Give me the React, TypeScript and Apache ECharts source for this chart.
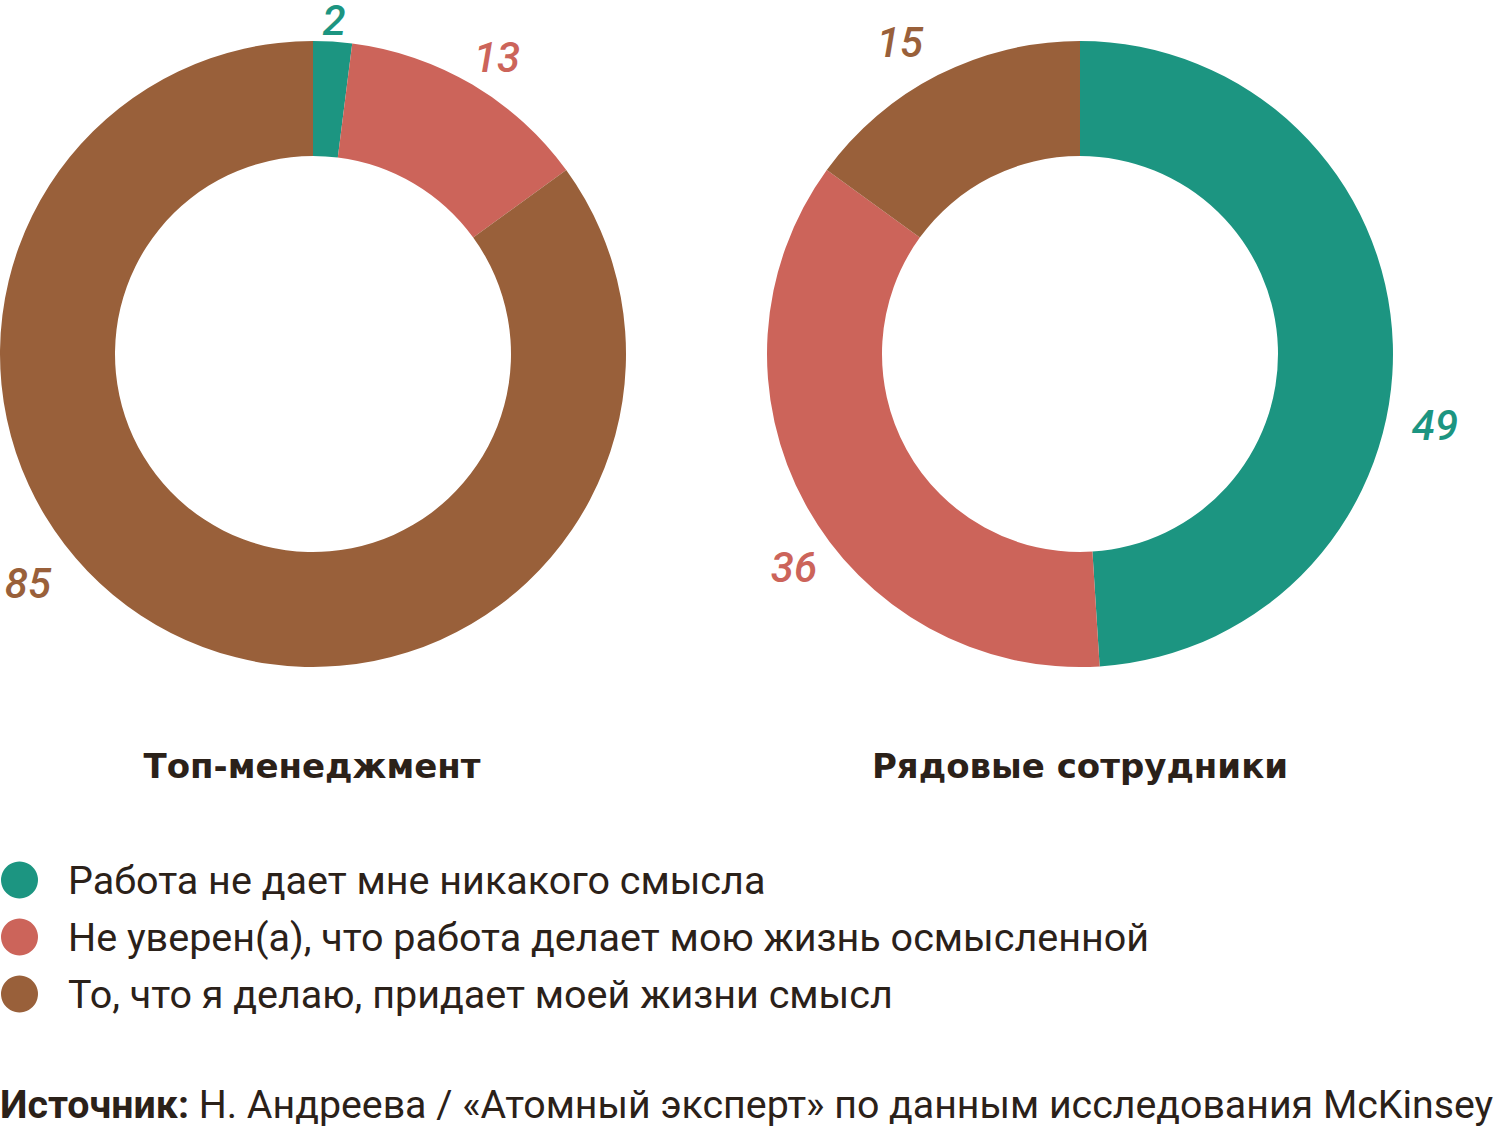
import React, { useEffect, useRef } from "react";
import * as echarts from "echarts";

const categories = [
  "Работа не дает мне никакого смысла",
  "Не уверен(а), что работа делает мою жизнь осмысленной",
  "То, что я делаю, придает моей жизни смысл",
];
const colors = ["#1c9581", "#cc645a", "#99603a"];
const groups = ["Топ-менеджмент", "Рядовые сотрудники"];
const topValues = [2, 13, 85];
const staffValues = [49, 36, 15];
const sourceLabel = "Источник:";
const sourceText = " Н. Андреева / «Атомный эксперт» по данным исследования McKinsey";

// label anchor offsets (px, relative to pie centre) for each slice label
const labelOffsets = [
  [
    [21, -334],
    [184, -297],
    [-285, 229],
  ],
  [
    [355, 71],
    [-286, 213],
    [-180, -312],
  ],
];

const TEXT = "#2b2119";
const centers = [
  [313, 354],
  [1080, 354],
];

export default function App() {
  const ref = useRef<HTMLDivElement>(null);
  useEffect(() => {
    document.body.style.margin = "0";
    const chart = echarts.init(ref.current!, null, { renderer: "svg" });
    const mk = (vals: number[], si: number) => ({
      type: "pie",
      center: centers[si],
      radius: [198, 313],
      startAngle: 90,
      clockwise: true,
      avoidLabelOverlap: false,
      silent: true,
      label: {
        show: true,
        position: "outside",
        formatter: "{c}",
        fontFamily: "Roboto",
        fontStyle: "italic",
        fontWeight: 500,
        fontSize: 42,
        lineHeight: 32,
        color: "inherit",
      },
      labelLine: { show: false },
      labelLayout: (p: any) => {
        const o = labelOffsets[si][p.dataIndex];
        return {
          x: centers[si][0] + o[0],
          y: centers[si][1] + o[1],
          align: "center",
          verticalAlign: "middle",
        };
      },
      data: vals.map((v, i) => ({
        name: categories[i],
        value: v,
        itemStyle: { color: colors[i] },
        label: { color: colors[i] },
      })),
    });
    const titleStyle = { fontFamily: "DejaVu Sans", fontWeight: "bold", fontSize: 34, color: TEXT };
    chart.setOption({
      animation: false,
      backgroundColor: "#ffffff",
      legend: {
        orient: "vertical",
        left: 1,
        top: 860,
        padding: 0,
        icon: "circle",
        itemWidth: 37,
        itemHeight: 37,
        itemGap: 17,
        selectedMode: false,
        data: categories,
        textStyle: {
          fontFamily: "Roboto",
          fontSize: 39.5,
          lineHeight: 37,
          color: TEXT,
          padding: [0, 0, 0, 25],
        },
      },
      title: [
        {
          text: groups[0],
          left: 312,
          top: 749,
          padding: 0,
          textAlign: "center",
          textStyle: titleStyle,
        },
        {
          text: groups[1],
          left: 1080,
          top: 749,
          padding: 0,
          textAlign: "center",
          textStyle: titleStyle,
        },
        {
          text: "{b|" + sourceLabel + "}{r|" + sourceText + "}",
          left: 0,
          top: 1086,
          padding: 0,
          textStyle: {
            rich: {
              b: { fontFamily: "Roboto", fontWeight: "bold", fontSize: 39.3, lineHeight: 38, color: TEXT },
              r: { fontFamily: "Roboto", fontWeight: "normal", fontSize: 39.3, lineHeight: 38, color: TEXT },
            },
          },
        },
      ],
      series: [mk(topValues, 0), mk(staffValues, 1)],
    });
    return () => chart.dispose();
  }, []);
  return <div ref={ref} style={{ width: 1500, height: 1129 }} />;
}
